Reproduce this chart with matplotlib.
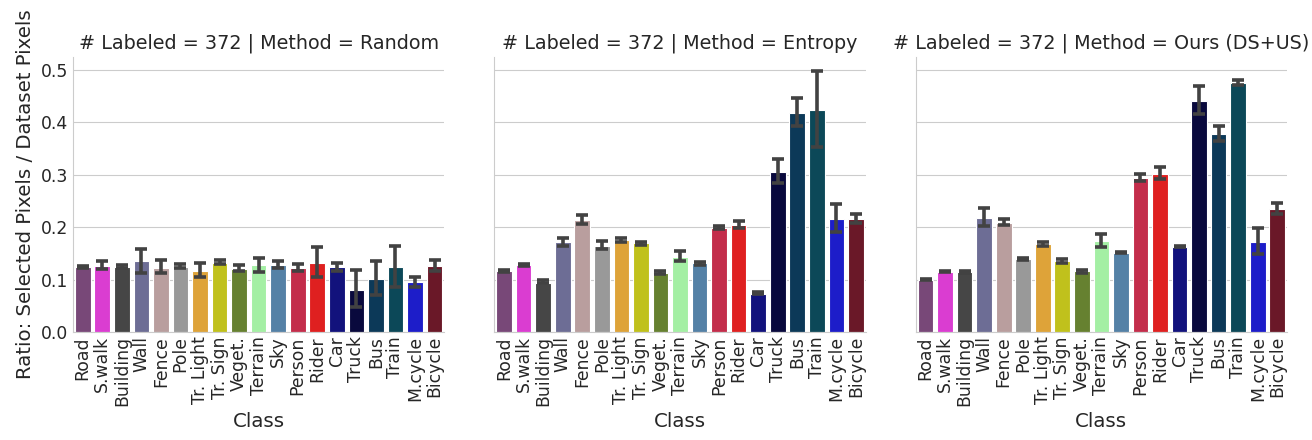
import numpy as np
import matplotlib
matplotlib.use("Agg")
import matplotlib.pyplot as plt
import seaborn as sns

classes = ["Road", "S.walk", "Building", "Wall", "Fence", "Pole", "Tr. Light",
           "Tr. Sign", "Veget.", "Terrain", "Sky", "Person", "Rider", "Car",
           "Truck", "Bus", "Train", "M.cycle", "Bicycle"]

# cityscapes palette
class_rgb = [(128, 64, 128), (244, 35, 232), (70, 70, 70), (102, 102, 156),
             (190, 153, 153), (153, 153, 153), (250, 170, 30), (220, 220, 0),
             (107, 142, 35), (152, 251, 152), (70, 130, 180), (220, 20, 60),
             (255, 0, 0), (0, 0, 142), (0, 0, 70), (0, 60, 100), (0, 80, 100),
             (0, 0, 230), (119, 11, 32)]

methods = ["Random", "Entropy", "Ours (DS+US)"]
n_labeled = 372

random_mean = [0.124, 0.126, 0.125, 0.135, 0.123, 0.125, 0.116, 0.132, 0.120, 0.127,
               0.128, 0.122, 0.131, 0.124, 0.081, 0.101, 0.124, 0.095, 0.126]
random_lo = [0.122, 0.120, 0.123, 0.113, 0.113, 0.122, 0.105, 0.129, 0.116, 0.115,
             0.122, 0.116, 0.105, 0.117, 0.047, 0.070, 0.086, 0.086, 0.116]
random_hi = [0.126, 0.135, 0.127, 0.159, 0.137, 0.129, 0.132, 0.137, 0.127, 0.142,
             0.135, 0.130, 0.162, 0.132, 0.118, 0.135, 0.165, 0.105, 0.138]

entropy_mean = [0.117, 0.127, 0.094, 0.171, 0.214, 0.165, 0.175, 0.169, 0.113, 0.143,
                0.131, 0.199, 0.204, 0.073, 0.305, 0.419, 0.423, 0.216, 0.215]
entropy_lo = [0.115, 0.126, 0.093, 0.165, 0.207, 0.159, 0.172, 0.167, 0.111, 0.136,
              0.128, 0.197, 0.198, 0.072, 0.284, 0.394, 0.353, 0.191, 0.209]
entropy_hi = [0.119, 0.129, 0.099, 0.180, 0.224, 0.173, 0.180, 0.171, 0.117, 0.154,
              0.134, 0.203, 0.212, 0.077, 0.330, 0.447, 0.498, 0.245, 0.226]

ours_mean = [0.100, 0.115, 0.114, 0.217, 0.208, 0.139, 0.168, 0.135, 0.116, 0.173,
             0.151, 0.294, 0.302, 0.163, 0.441, 0.378, 0.476, 0.171, 0.235]
ours_lo = [0.099, 0.114, 0.112, 0.203, 0.204, 0.138, 0.164, 0.132, 0.113, 0.162,
           0.150, 0.289, 0.292, 0.162, 0.416, 0.365, 0.471, 0.148, 0.226]
ours_hi = [0.102, 0.117, 0.117, 0.236, 0.216, 0.141, 0.172, 0.140, 0.119, 0.187,
           0.153, 0.301, 0.315, 0.165, 0.470, 0.394, 0.482, 0.199, 0.247]

means = [random_mean, entropy_mean, ours_mean]
lows = [random_lo, entropy_lo, ours_lo]
highs = [random_hi, entropy_hi, ours_hi]


def main():
    sns.set_style("whitegrid")
    plt.rcParams["font.family"] = ["DejaVu Sans"]
    plt.rcParams["text.color"] = ".15"
    plt.rcParams["axes.labelcolor"] = ".15"

    colors = [sns.desaturate(tuple(c / 255 for c in rgb), 0.75) for rgb in class_rgb]
    x = np.arange(len(classes))

    fig, axes = plt.subplots(1, 3, figsize=(13.12, 4.4), dpi=100, sharey=True)
    fig.subplots_adjust(left=0.0556, right=0.981, bottom=0.2455, top=0.8705, wspace=0.1348)

    for ax, method, m, lo, hi in zip(axes, methods, means, lows, highs):
        m = np.array(m)
        err = np.vstack([m - np.array(lo), np.array(hi) - m])
        ax.bar(x, m, width=0.8, color=colors, edgecolor="w", linewidth=0.8, zorder=2)
        ax.errorbar(x, m, yerr=err, fmt="none", ecolor=".26", elinewidth=2.6,
                    capsize=4.5, capthick=2.6, zorder=3)
        ax.set_xticks(x)
        ax.set_xticklabels(classes, rotation=90, fontsize=12.4)
        ax.tick_params(axis="y", labelsize=12.4, length=0)
        ax.tick_params(axis="x", length=0, pad=3)
        ax.set_xlim(-0.5, len(classes) - 0.5)
        ax.set_ylim(0, 0.525)
        ax.set_yticks([0.0, 0.1, 0.2, 0.3, 0.4, 0.5])
        ax.xaxis.grid(False)
        ax.set_title(f"# Labeled = {n_labeled} | Method = {method}", fontsize=13.8)
        ax.set_xlabel("Class", fontsize=14.2)
        for s in ["top", "right"]:
            ax.spines[s].set_visible(False)

    axes[0].set_ylabel("Ratio: Selected Pixels / Dataset Pixels", fontsize=14.2)

    fig.savefig("out.png", dpi=100)


if __name__ == "__main__":
    main()
